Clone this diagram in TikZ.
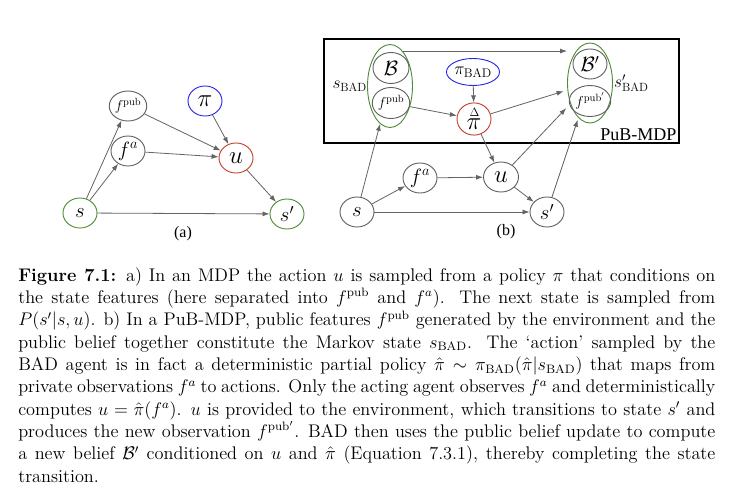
\documentclass[tikz,border=0pt]{standalone}
\usepackage{fontspec}
\usetikzlibrary{arrows.meta,positioning,shapes.geometric}
\newfontfamily\figfont{Liberation Serif}
\definecolor{mdgrey}{RGB}{95,95,95}
\definecolor{mdarrow}{RGB}{100,100,100}
\definecolor{mdgreen}{RGB}{75,140,50}
\definecolor{mdred}{RGB}{195,60,40}
\definecolor{mdblue}{RGB}{35,35,235}

\begin{document}
\begin{tikzpicture}[x=1pt, y=-1pt,
  var/.style={ellipse, draw=#1, line width=0.9pt, minimum width=34pt, minimum height=30pt, inner sep=0pt},
  var/.default=mdgrey,
  state/.style={ellipse, draw=mdgreen, line width=0.9pt, minimum width=45pt, minimum height=83pt, inner sep=0pt},
  arr/.style={-{Latex[length=7pt,width=5pt]}, line width=0.8pt, mdarrow},
  sm/.style={font=\fontsize{15}{15}\selectfont},
  md/.style={font=\fontsize{20}{20}\selectfont},
  lg/.style={font=\fontsize{29}{29}\selectfont},
  lbl/.style={font=\figfont\fontsize{16}{16}\selectfont},
]
\fill[white] (0,0) rectangle (753,494);
\useasboundingbox (0,0) rectangle (753,494);

% (a) plain MDP
\node[var=mdgreen, md] (sa) at (80,213) {$s$};
\node[var, sm] (fpuba) at (128,106) {$f^{\mathrm{pub}}$};
\node[var, font=\fontsize{22}{22}\selectfont] (faa) at (128,151) {$f^a$};
\node[var=mdblue, lg] (pia) at (205,101) {$\pi$};
\node[var=mdred, lg] (ua) at (236,158) {$u$};
\node[var=mdgreen, md] (spa) at (287,214) {$s'$};
\node[lbl] (laba) at (183,234) {(a)};

\draw[arr] (sa) -- (fpuba);
\draw[arr] (sa) -- (faa);
\draw[arr] (sa) -- (spa);
\draw[arr] (fpuba) -- (ua);
\draw[arr] (faa) -- (ua);
\draw[arr] (pia) -- (ua);
\draw[arr] (ua) -- (spa);

% (b) PuB-MDP
\node[draw, line width=1.6pt, minimum width=355pt, minimum height=104pt, anchor=north west] (pubmdp) at (323,38) {};
\node[font=\figfont\fontsize{18}{18}\selectfont, anchor=south east, inner sep=3pt] (publbl) at (pubmdp.south east) {PuB-MDP};

\node[state] (sbad) at (390,86) {};
\node[var, md, minimum width=36pt, minimum height=31pt] (B) at (391,68) {$\mathcal{B}$};
\node[var, sm, minimum width=36pt, minimum height=31pt] (fpubb) at (391,103) {$f^{\mathrm{pub}}$};
\node[font=\fontsize{17}{17}\selectfont, left=-1pt of sbad, inner sep=1pt] (sbadlbl) {$s_{\mathrm{BAD}}$};

\node[state, minimum height=80pt] (sbadp) at (590,83) {};
\node[var, md, minimum width=34pt, minimum height=30pt] (Bp) at (590,64) {$\mathcal{B}'$};
\node[var, sm, minimum width=34pt, minimum height=31pt] (fpubp) at (590,101) {$f^{\mathrm{pub}'}$};
\node[font=\fontsize{17}{17}\selectfont, right=0pt of sbadp, inner sep=1pt] (sbadplbl) {$s'_{\mathrm{BAD}}$};

\node[ellipse, draw=mdblue, line width=0.9pt, inner sep=0pt, minimum width=50pt, minimum height=27pt, font=\fontsize{18}{18}\selectfont] (pibad) at (473,72) {$\pi_{\mathrm{BAD}}$};
\node[var=mdred, font=\fontsize{26}{26}\selectfont] (pihat) at (474,119) {$\stackrel{\scriptscriptstyle\Delta}{\pi}$};

\node[var, md] (sb) at (357,212) {$s$};
\node[var, font=\fontsize{22}{22}\selectfont] (fab) at (420,178) {$f^a$};
\node[var, lg, minimum width=35pt] (ub) at (501,177) {$u$};
\node[var, md] (spb) at (547,212) {$s'$};
\node[lbl] (labb) at (506,232) {(b)};

\draw[arr] (sbad.70) -- (sbad.70 -| sbadp.west);
\draw[arr] (fpubb) -- (pihat);
\draw[arr] (pibad) -- (pihat);
\draw[arr, shorten >=4pt] (pihat) -- (sbadp);
\draw[arr] (pihat) -- (ub);
\draw[arr] (sb) -- (sbad);
\draw[arr] (sb) -- (fab);
\draw[arr] (sb) -- (spb);
\draw[arr] (fab) -- (ub);
\draw[arr] (ub) -- (spb);
\draw[arr, shorten >=6pt] (ub) -- (sbadp);
\draw[arr, shorten >=2pt] (spb) -- (sbadp);

% caption
\node[anchor=north west, inner sep=0pt, transform shape, scale=1.522, text width=458pt, align=justify, font=\fontsize{12}{14.7}\selectfont] (caption) at (18,267)
  {\hyphenpenalty=10000 \textbf{Figure 7.1:} a) In an MDP the action $u$ is sampled from a policy $\pi$ that conditions on\linebreak
  the state features (here separated into $f^{\mathrm{pub}}$ and $f^a$). The next state is sampled from\linebreak
  $P(s'|s,u)$. b) In a PuB-MDP, public features $f^{\mathrm{pub}}$ generated by the environment and the\linebreak
  public belief together constitute the Markov state $s_{\mathrm{BAD}}$. The `action' sampled by the\linebreak
  BAD agent is in fact a deterministic partial policy $\hat{\pi}\sim\pi_{\mathrm{BAD}}(\hat{\pi}|s_{\mathrm{BAD}})$ that maps from\linebreak
  private observations $f^a$ to actions. Only the acting agent observes $f^a$ and deterministically\linebreak
  computes $u=\hat{\pi}(f^a)$. $u$ is provided to the environment, which transitions to state $s'$ and\linebreak
  produces the new observation $f^{\mathrm{pub}'}$. BAD then uses the public belief update to compute\linebreak
  a new belief $\mathcal{B}'$ conditioned on $u$ and $\hat{\pi}$ (Equation 7.3.1), thereby completing the state\linebreak
  transition.};
\end{tikzpicture}
\end{document}
